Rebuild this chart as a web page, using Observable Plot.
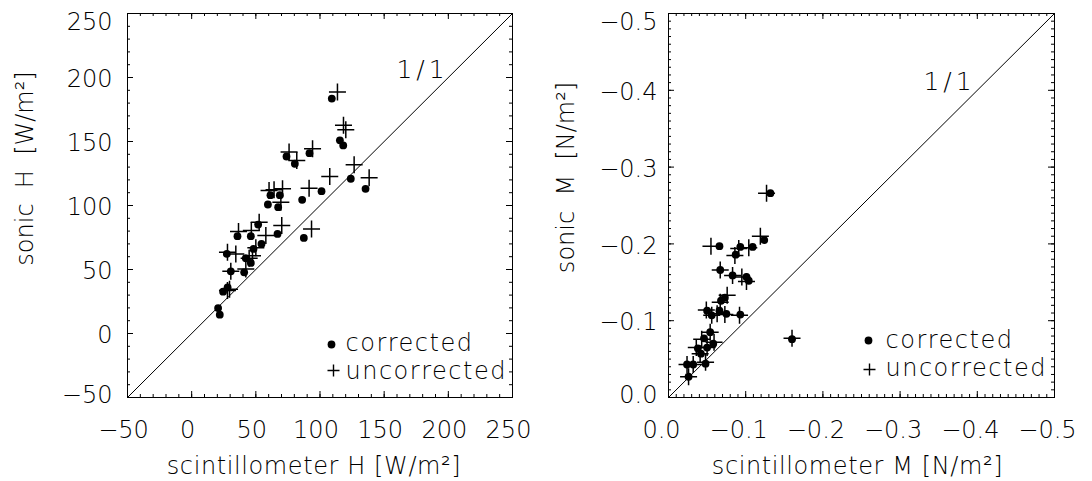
<!DOCTYPE html>
<html><head><meta charset="utf-8">
<script src="https://cdn.jsdelivr.net/npm/d3@7"></script>
<script src="https://cdn.jsdelivr.net/npm/@observablehq/plot@0.6"></script>
<style>
body{margin:0;background:#fff;}
#wrap{display:flex;width:1092px;height:481px;}
svg{overflow:visible;}
</style></head><body><div id="wrap"></div>
<script>
// ---- Panel 1: sensible heat flux H [W/m2] ----
const scintH_corr = [109.2,115.5,118.1,73.9,80.4,91.8,124.0,135.5,101.2,86.1,61.4,68.7,59.4,67.4,51.8,66.9,87.4,35.7,46.1,54.4,48.2,27.4,42.2,46.1,30.5,40.9,28.0,24.5,20.6,21.9];
const sonicH_corr = [183.5,150.9,146.9,138.3,132.6,140.9,120.9,113.0,111.2,104.4,108.1,108.1,100.8,98.7,85.1,77.8,74.7,76.0,76.0,70.0,66.1,62.2,58.8,55.1,48.6,47.8,36.1,32.7,19.9,14.7];
const scintH_unc = [113.6,118.3,120.1,75.9,81.9,94.2,126.6,138.3,107.6,91.5,60.3,70.8,64.2,69.5,52.6,70.2,93.4,36.5,46.5,57.8,50.0,27.9,44.8,47.4,30.5,42.2,27.9,34.4,29.5];
const sonicH_unc = [188.6,162.6,159.2,141.7,135.2,144.3,131.8,121.7,122.7,113.5,111.7,113.0,112.3,102.6,86.9,84.3,81.7,79.7,80.4,76.5,66.9,63.4,58.7,60.8,48.6,50.4,33.5,62.2,34.5];
const ticksH = [-50, 0, 50, 100, 150, 200, 250];

// ---- Panel 2: momentum flux M [N/m2] ----
const scintM_corr = [-0.132,-0.124,-0.066,-0.093,-0.109,-0.087,-0.067,-0.083,-0.101,-0.104,-0.073,-0.068,-0.050,-0.056,-0.066,-0.075,-0.093,-0.054,-0.046,-0.058,-0.050,-0.038,-0.042,-0.048,-0.024,-0.032,-0.026,-0.160];
const sonicM_corr = [-0.266,-0.205,-0.197,-0.196,-0.196,-0.186,-0.166,-0.159,-0.157,-0.152,-0.130,-0.126,-0.113,-0.107,-0.113,-0.109,-0.108,-0.085,-0.077,-0.070,-0.065,-0.064,-0.057,-0.044,-0.043,-0.043,-0.027,-0.076];
const scintM_unc = [-0.127,-0.119,-0.055,-0.091,-0.104,-0.086,-0.067,-0.083,-0.095,-0.101,-0.076,-0.067,-0.049,-0.056,-0.063,-0.073,-0.092,-0.054,-0.043,-0.059,-0.050,-0.036,-0.041,-0.048,-0.024,-0.032,-0.026,-0.160];
const sonicM_unc = [-0.266,-0.210,-0.197,-0.194,-0.195,-0.185,-0.166,-0.159,-0.157,-0.151,-0.133,-0.124,-0.114,-0.107,-0.109,-0.108,-0.107,-0.085,-0.076,-0.072,-0.065,-0.065,-0.057,-0.046,-0.043,-0.043,-0.027,-0.077];
const ticksM = [0, -0.1, -0.2, -0.3, -0.4, -0.5];

const legendLabels = ["corrected", "uncorrected"];
const oneToOne = "1/1";

const FONT = "DejaVu Sans";
const TXT = "#000";

const crossSymbol = {
  draw(ctx, size) {
    const r = Math.sqrt(size / Math.PI);
    ctx.moveTo(-r, 0); ctx.lineTo(r, 0);
    ctx.moveTo(0, -r); ctx.lineTo(0, r);
  }
};

function panel(cfg) {
  const W = 546, H = 481, mt = 13, mb = 84;
  const fw = W - cfg.ml - cfg.mr, fh = H - mt - mb;
  const lo = cfg.domain[0], hi = cfg.domain[1];
  const major = cfg.major;
  const ymid = major.slice(1, -1);
  const txt = {fill: TXT, fontWeight: 200, fontFamily: FONT};
  const pts = (xs, ys) => xs.map((x, i) => ({x, y: ys[i]}));
  const L = cfg.leg;
  return Plot.plot({
    width: W, height: H,
    marginLeft: cfg.ml, marginRight: cfg.mr, marginTop: mt, marginBottom: mb,
    x: {domain: cfg.domain, axis: null},
    y: {domain: cfg.domain, axis: null},
    style: {fontFamily: FONT, background: "white", overflow: "visible"},
    marks: [
      Plot.frame({stroke: "black", strokeWidth: 1}),
      // minor ticks (inward, all four sides)
      Plot.tickX(cfg.minor, {x: d => d, insetTop: fh - 3, stroke: "black"}),
      Plot.tickX(cfg.minor, {x: d => d, insetBottom: fh - 3, stroke: "black"}),
      Plot.tickY(cfg.minor, {y: d => d, insetRight: fw - 3, stroke: "black"}),
      Plot.tickY(cfg.minor, {y: d => d, insetLeft: fw - 3, stroke: "black"}),
      // major ticks
      Plot.tickX(major, {x: d => d, insetTop: fh - 6, stroke: "black"}),
      Plot.tickX(major, {x: d => d, insetBottom: fh - 6, stroke: "black"}),
      Plot.tickY(major, {y: d => d, insetRight: fw - 6, stroke: "black"}),
      Plot.tickY(major, {y: d => d, insetLeft: fw - 6, stroke: "black"}),
      // 1:1 line
      Plot.line([lo, hi], {x: d => d, y: d => d, stroke: "black", strokeWidth: 1}),
      Plot.text([oneToOne], {text: d => d, frameAnchor: "top-right", dx: cfg.oneDx, dy: cfg.oneDy, lineAnchor: "bottom", textAnchor: "middle", fontSize: 25, ...txt}),
      // data
      Plot.dot(pts(cfg.xu, cfg.yu), {x: "x", y: "y", symbol: crossSymbol, r: 8.5, stroke: "black", strokeWidth: 1.5, fill: "none"}),
      Plot.dot(pts(cfg.xc, cfg.yc), {x: "x", y: "y", r: 3.9, fill: "black", stroke: "none"}),
      // tick labels
      Plot.text(major, {x: d => d, text: cfg.fmt, frameAnchor: "bottom", dy: 40, dx: cfg.xlabDx, lineAnchor: "bottom", textAnchor: "middle", fontSize: 24, ...txt}),
      Plot.text(major.slice(0, 1), {y: d => d, text: cfg.fmt, frameAnchor: "left", dx: -cfg.ypad, dy: -2, textAnchor: "end", lineAnchor: "middle", fontSize: 24, ...txt}),
      Plot.text(ymid, {y: d => d, text: cfg.fmt, frameAnchor: "left", dx: -cfg.ypad, dy: 2, textAnchor: "end", lineAnchor: "middle", fontSize: 24, ...txt}),
      Plot.text(major.slice(-1), {y: d => d, text: cfg.fmt, frameAnchor: "left", dx: -cfg.ypad, dy: 9, textAnchor: "end", lineAnchor: "middle", fontSize: 24, ...txt}),
      // axis titles
      Plot.text([cfg.xlabel], {text: d => d, frameAnchor: "bottom", dx: cfg.xtDx, dy: 76, lineAnchor: "bottom", textAnchor: "middle", fontSize: 24, ...txt}),
      Plot.text([cfg.ylabel], {text: d => d, frameAnchor: "left", rotate: -90, dx: -95, dy: cfg.ytDy, lineAnchor: "bottom", textAnchor: "middle", fontSize: 24, ...txt}),
      // legend
      Plot.dot([legendLabels[0]], {frameAnchor: "bottom-right", dx: L.dotDx, dy: L.dotDy, r: 3.9, fill: "black"}),
      Plot.dot([legendLabels[1]], {frameAnchor: "bottom-right", dx: L.crDx, dy: L.crDy, r: 6, symbol: crossSymbol, stroke: "black", strokeWidth: 1.4, fill: "none"}),
      Plot.text([legendLabels[0]], {text: d => d, frameAnchor: "bottom-right", dx: L.txDx, dy: L.t1Dy, textAnchor: "start", lineAnchor: "bottom", fontSize: 24, ...txt}),
      Plot.text([legendLabels[1]], {text: d => d, frameAnchor: "bottom-right", dx: L.txDx, dy: L.t2Dy, textAnchor: "start", lineAnchor: "bottom", fontSize: 24, ...txt})
    ]
  });
}

const fmtH = d3.format("d");
const fmtM = d3.format(".1f");

const left = panel({
  ml: 127, mr: 34, domain: [-50, 250], major: ticksH, minor: d3.range(-50, 251, 10),
  fmt: d => fmtH(d), xlabDx: -4, ypad: 15,
  xc: scintH_corr, yc: sonicH_corr, xu: scintH_unc, yu: sonicH_unc,
  xlabel: "scintillometer H [W/m²]", ylabel: "sonic  H  [W/m²]", xtDx: -6, ytDy: -37,
  oneDx: -90, oneDy: 64,
  leg: {dotDx: -181, dotDy: -53, crDx: -179, crDy: -27, txDx: -167, t1Dy: -47, t2Dy: -19}
});
const right = panel({
  ml: 122, mr: 38, domain: [0, -0.5], major: ticksM, minor: d3.range(0, 51).map(i => -i / 100),
  fmt: d => fmtM(d), xlabDx: -7, ypad: 11,
  xc: scintM_corr, yc: sonicM_corr, xu: scintM_unc, yu: sonicM_unc,
  xlabel: "scintillometer M [N/m²]", ylabel: "sonic  M  [N/m²]", xtDx: -4, ytDy: -28,
  oneDx: -105, oneDy: 76,
  leg: {dotDx: -186, dotDy: -57, crDx: -185, crDy: -28, txDx: -169, t1Dy: -50, t2Dy: -22}
});

const wrap = document.getElementById("wrap");
wrap.append(left, right);

// letter spacing for titles / legend (Hershey-like look)
const xTitles = new Set(["scintillometer H [W/m²]", "scintillometer M [N/m²]"]);
const yTitles = new Set(["sonic  H  [W/m²]", "sonic  M  [N/m²]"]);
d3.selectAll("#wrap text").each(function () {
  const t = this.textContent;
  const s = d3.select(this);
  if (xTitles.has(t)) s.style("letter-spacing", "0.6px");
  if (yTitles.has(t)) s.style("white-space", "pre");
  if (legendLabels.includes(t)) s.style("letter-spacing", "1.5px");
  if (t === oneToOne) s.style("letter-spacing", "4px");
});
</script></body></html>
